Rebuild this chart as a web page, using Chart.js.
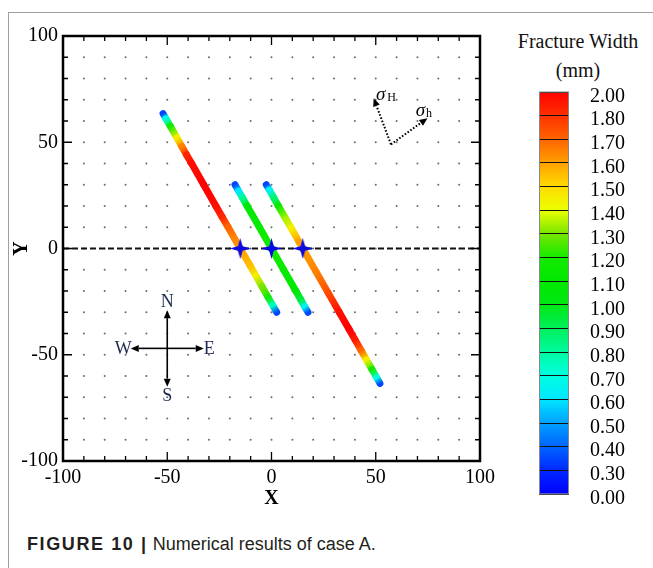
<!DOCTYPE html>
<html>
<head>
<meta charset="utf-8">
<script src="https://cdn.jsdelivr.net/npm/chart.js@4.4.1/dist/chart.umd.min.js"></script>
<style>
  html, body { margin: 0; padding: 0; background: #fff; }
  body { width: 653px; height: 568px; position: relative; overflow: hidden; }
  #frame { position: absolute; left: 8px; top: 12px; right: 0; bottom: 0; border-left: 1px solid #a0a0a0; border-top: 1px solid #a0a0a0; }
  #plot { position: absolute; left: 0; top: 0; }
  #bar { position: absolute; left: 529px; top: 72px; }
  #barTitle { position: absolute; left: 508px; width: 140px; top: 27px; text-align: center;
              font: 20px "Liberation Serif", serif; line-height: 29px; color: #111; }
  #caption { position: absolute; left: 27px; top: 534px; font: 18px "Liberation Sans", Arial, sans-serif; color: #231f20; }
  #caption b { letter-spacing: 1.6px; }
</style>
</head>
<body>
<div id="frame"></div>
<canvas id="plot" width="500" height="520"></canvas>
<div id="barTitle">Fracture Width<br>(mm)</div>
<canvas id="bar" width="110" height="442"></canvas>
<div id="caption"><b>FIGURE 10 |</b> Numerical results of case A.</div>

<script>
// Fracture traces: node coordinates and fracture width (mm)

const frac1X = [-52.0, -50.6, -48.5, -45.3, -43.0, -40.7, -38.3, -32.5, -26.7, -23.75, -20.8, -15, -10.3, -7.4, -4.5, -1.6, 0.75, 2.5];
const frac1Y = [63.5, 61, 57.5, 52, 48, 44, 40, 30, 20, 15, 10, 0, -8, -13, -18, -23, -27, -30];
const frac1W = [0.35, 0.7, 1.2, 1.45, 1.65, 1.85, 1.95, 2.0, 1.95, 1.85, 1.7, 1.6, 1.55, 1.45, 1.3, 1.2, 0.75, 0.35];

const frac2X = [-17.5, -15.75, -14.0, -11.7, -5.8, 0, 5.8, 11.7, 14.0, 16.0, 17.5];
const frac2Y = [30, 27, 24, 20, 10, 0, -10, -20, -24, -27.5, -30];
const frac2W = [0.35, 0.6, 0.8, 1.05, 1.15, 1.2, 1.15, 1.1, 0.95, 0.65, 0.35];

const frac3X = [-2.5, -1.0, 1.0, 3.3, 7.1, 9.5, 13.25, 15, 21.4, 27.25, 32.5, 37.2, 40.1, 43.0, 45.6, 48.25, 50.6, 52.0];
const frac3Y = [30, 27.5, 24, 20, 13.5, 9.5, 3, 0, -11, -21, -30, -38, -43, -48, -52.5, -57, -61, -63.5];
const frac3W = [0.35, 0.65, 0.85, 1.15, 1.35, 1.45, 1.6, 1.6, 1.65, 1.75, 1.95, 2.0, 1.9, 1.7, 1.45, 1.2, 0.7, 0.35];

// intersections with the wellbore (y = 0)
const starX = [-15, 0, 15];
const starY = [0, 0, 0];

// axis ticks every 10, labelled every 50
const tickSteps = [-100, -90, -80, -70, -60, -50, -40, -30, -20, -10, 0, 10, 20, 30, 40, 50, 60, 70, 80, 90, 100];

// colour legend levels (bottom to top) and colour at each level
const barLevels = [0.00, 0.30, 0.40, 0.50, 0.60, 0.70, 0.80, 0.90, 1.00, 1.10, 1.20, 1.30, 1.40, 1.50, 1.60, 1.70, 1.80, 2.00];
const barColors = [
    [0, 0, 255], [0, 40, 255], [0, 100, 255], [0, 160, 255], [0, 230, 255], [0, 255, 225],
    [0, 250, 160], [0, 240, 90], [0, 232, 20], [0, 232, 0], [20, 235, 0], [120, 230, 0],
    [235, 255, 0], [255, 220, 0], [255, 160, 0], [255, 100, 0], [255, 50, 0], [255, 0, 0]
];

const serif = '"Liberation Serif", "Times New Roman", serif';

const rgb = c => `rgb(${c.map(Math.round).join(',')})`;

const widthColor = (v) => {
    for (let i = 0; i < barLevels.length - 1; i++) {
        if (v <= barLevels[i + 1]) {
            const t = Math.max(0, (v - barLevels[i]) / (barLevels[i + 1] - barLevels[i]));
            return rgb(barColors[i].map((c, k) => c + (barColors[i + 1][k] - c) * t));
        }
    }
    return rgb(barColors[barColors.length - 1]);
};

const toPoints = (xs, ys, ws) => xs.map((x, i) => ({ x, y: ys[i], w: ws ? ws[i] : 0 }));

// 4-pointed star marker
const starImg = document.createElement('canvas');
starImg.width = 21; starImg.height = 21;
(() => {
    const c = starImg.getContext('2d');
    c.fillStyle = '#0a0ae6';
    c.beginPath();
    c.moveTo(10.5, 0); c.lineTo(12.8, 8.2); c.lineTo(21, 10.5); c.lineTo(12.8, 12.8);
    c.lineTo(10.5, 21); c.lineTo(8.2, 12.8); c.lineTo(0, 10.5); c.lineTo(8.2, 8.2);
    c.closePath();
    c.fill();
})();

const fractureDataset = (xs, ys, ws) => ({
    data: toPoints(xs, ys, ws),
    showLine: true,
    pointRadius: 0,
    borderWidth: 7,
    borderCapStyle: 'round',
    borderJoinStyle: 'round',
    segment: {
        borderColor: ctx => {
            const pts = ctx.chart.data.datasets[ctx.datasetIndex].data;
            const g = ctx.chart.ctx.createLinearGradient(ctx.p0.x, ctx.p0.y, ctx.p1.x, ctx.p1.y);
            g.addColorStop(0, widthColor(pts[ctx.p0DataIndex].w));
            g.addColorStop(1, widthColor(pts[ctx.p1DataIndex].w));
            return g;
        },
        // keeps every segment separate so each one gets its own gradient
        borderDashOffset: ctx => ctx.p0DataIndex
    }
});

const gridInner = tickSteps.filter(v => Math.abs(v) < 100);
const dotPoints = gridInner.flatMap(x => gridInner.map(y => ({ x, y })));

const drawArrow = (ctx, x0, y0, x1, y1, head = 8, half = 3.5) => {
    const a = Math.atan2(y1 - y0, x1 - x0);
    const bx = x1 - head * Math.cos(a), by = y1 - head * Math.sin(a);
    ctx.beginPath();
    ctx.moveTo(x0, y0); ctx.lineTo(bx, by);
    ctx.stroke();
    ctx.save();
    ctx.setLineDash([]);
    ctx.beginPath();
    ctx.moveTo(x1, y1);
    ctx.lineTo(bx + half * Math.sin(a), by - half * Math.cos(a));
    ctx.lineTo(bx - half * Math.sin(a), by + half * Math.cos(a));
    ctx.closePath();
    ctx.fill();
    ctx.restore();
};

const framePlugin = {
    id: 'frame',
    afterDatasetsDraw(chart) {
        const { ctx, chartArea: a, scales: { x, y } } = chart;
        ctx.save();
        ctx.strokeStyle = '#000';
        ctx.fillStyle = '#000';

        // ticks pointing inwards on all four sides
        ctx.lineWidth = 1.3;
        tickSteps.forEach(v => {
            const len = v % 50 === 0 ? 9 : 5;
            const px = x.getPixelForValue(v), py = y.getPixelForValue(v);
            ctx.beginPath();
            ctx.moveTo(px, a.bottom); ctx.lineTo(px, a.bottom - len);
            ctx.moveTo(px, a.top); ctx.lineTo(px, a.top + len);
            ctx.moveTo(a.left, py); ctx.lineTo(a.left + len, py);
            ctx.moveTo(a.right, py); ctx.lineTo(a.right - len, py);
            ctx.stroke();
        });
        ctx.lineWidth = 2.5;
        ctx.strokeRect(a.left, a.top, a.width, a.height);

        // compass
        const cx = x.getPixelForValue(-50), cy = y.getPixelForValue(-47);
        const nY = y.getPixelForValue(-29), sY = y.getPixelForValue(-65);
        const wX = x.getPixelForValue(-67.5), eX = x.getPixelForValue(-32.5);
        ctx.lineWidth = 1.6;
        drawArrow(ctx, cx, cy, cx, nY);
        drawArrow(ctx, cx, cy, cx, sY);
        drawArrow(ctx, cx, cy, wX, cy);
        drawArrow(ctx, cx, cy, eX, cy);
        ctx.fillStyle = '#1b2a4e';
        ctx.font = `18px ${serif}`;
        ctx.textBaseline = 'middle';
        ctx.textAlign = 'center';
        ctx.fillText('N', cx, nY - 8);
        ctx.fillText('S', cx, sY + 10);
        ctx.textAlign = 'right';
        ctx.fillText('W', wX + 1, cy + 1);
        ctx.textAlign = 'left';
        ctx.fillText('E', eX, cy + 1);

        // principal stress directions
        ctx.fillStyle = '#000';
        ctx.lineWidth = 2;
        ctx.setLineDash([1.6, 1.8]);
        const ox = x.getPixelForValue(57.3), oy = y.getPixelForValue(49);
        const hx = x.getPixelForValue(49), hy = y.getPixelForValue(70.7);
        const lx = x.getPixelForValue(74.8), ly = y.getPixelForValue(61.3);
        drawArrow(ctx, ox, oy, hx, hy, 8, 3.5);
        drawArrow(ctx, ox, oy, lx, ly, 8, 3.5);
        ctx.setLineDash([]);
        ctx.textAlign = 'center';
        ctx.font = `italic 19px ${serif}`;
        ctx.fillText('σ', hx + 7, hy - 3);
        ctx.fillText('σ', lx - 7, ly - 7);
        ctx.font = `12px ${serif}`;
        ctx.fillText('H', hx + 18, hy);
        ctx.fillText('h', lx + 1.5, ly - 4);
        ctx.restore();
    }
};

Chart.defaults.font.family = serif;
Chart.defaults.color = '#000';

// first dataset is drawn on top
new Chart(document.getElementById('plot'), {
    type: 'scatter',
    data: {
        datasets: [
            {
                data: toPoints(starX, starY),
                pointStyle: starImg,
                pointRadius: 10
            },
            {
                data: [{ x: -100, y: 0 }, { x: 100, y: 0 }],
                showLine: true,
                pointRadius: 0,
                borderColor: '#111',
                borderWidth: 2,
                borderDash: [6, 3]
            },
            fractureDataset(frac1X, frac1Y, frac1W),
            fractureDataset(frac2X, frac2Y, frac2W),
            fractureDataset(frac3X, frac3Y, frac3W),
            {
                data: dotPoints,
                pointRadius: 1,
                borderWidth: 0,
                backgroundColor: '#6a6a6a'
            }
        ]
    },
    options: {
        responsive: false,
        animation: false,
        events: [],
        layout: { padding: { left: 8, top: 36, right: 17, bottom: 9 } },
        plugins: { legend: { display: false }, tooltip: { enabled: false } },
        scales: {
            x: {
                min: -100, max: 100,
                afterFit: s => { s.height = 50; },
                grid: { display: false, drawTicks: false },
                border: { display: false },
                ticks: { stepSize: 50, padding: 5, font: { size: 20 } },
                title: { display: true, text: 'X', padding: 0, font: { size: 20, weight: 'bold' } }
            },
            y: {
                min: -100, max: 100,
                afterFit: s => { s.width = 55; },
                grid: { display: false, drawTicks: false },
                border: { display: false },
                ticks: { stepSize: 50, padding: 5, font: { size: 20 } },
                title: { display: true, text: 'Y', padding: { top: 2, bottom: 0 }, font: { size: 20, weight: 'bold' } }
            }
        }
    },
    plugins: [framePlugin]
});

// colour legend
const bandGradient = (chart, i) => {
    const { ctx, chartArea, scales } = chart;
    if (!chartArea) return rgb(barColors[i]);
    const y0 = scales.y.getPixelForValue(i), y1 = scales.y.getPixelForValue(i + 1);
    const g = ctx.createLinearGradient(0, y0, 0, y1);
    g.addColorStop(0, rgb(barColors[i]));
    g.addColorStop(1, rgb(barColors[i + 1]));
    return g;
};

new Chart(document.getElementById('bar'), {
    type: 'bar',
    data: {
        labels: [''],
        datasets: barLevels.slice(0, -1).map((lo, i) => ({
            data: [1],
            backgroundColor: c => bandGradient(c.chart, i),
            borderWidth: 0,
            barPercentage: 1,
            categoryPercentage: 1
        }))
    },
    options: {
        responsive: false,
        animation: false,
        events: [],
        layout: { padding: { left: 10, top: 20, bottom: 20, right: 0 } },
        plugins: { legend: { display: false }, tooltip: { enabled: false } },
        scales: {
            x: { display: false, stacked: true },
            y: {
                stacked: true,
                position: 'right',
                min: 0, max: barLevels.length - 1,
                afterFit: s => { s.width = 70; },
                grid: { z: 1, color: '#111', lineWidth: 1, drawTicks: true, tickLength: 21, tickColor: 'rgba(0,0,0,0)' },
                border: { display: false },
                ticks: {
                    stepSize: 1, autoSkip: false, padding: 0, labelOffset: 4.5,
                    font: { size: 20 },
                    callback: v => barLevels[v].toFixed(2)
                }
            }
        }
    },
    plugins: [{
        id: 'outline',
        afterDraw(chart) {
            const { ctx, chartArea: a } = chart;
            ctx.save();
            ctx.strokeStyle = '#888';
            ctx.lineWidth = 1;
            ctx.strokeRect(a.left + 0.5, a.top, a.width - 1, a.height);
            ctx.restore();
        }
    }]
});
</script>
</body>
</html>
